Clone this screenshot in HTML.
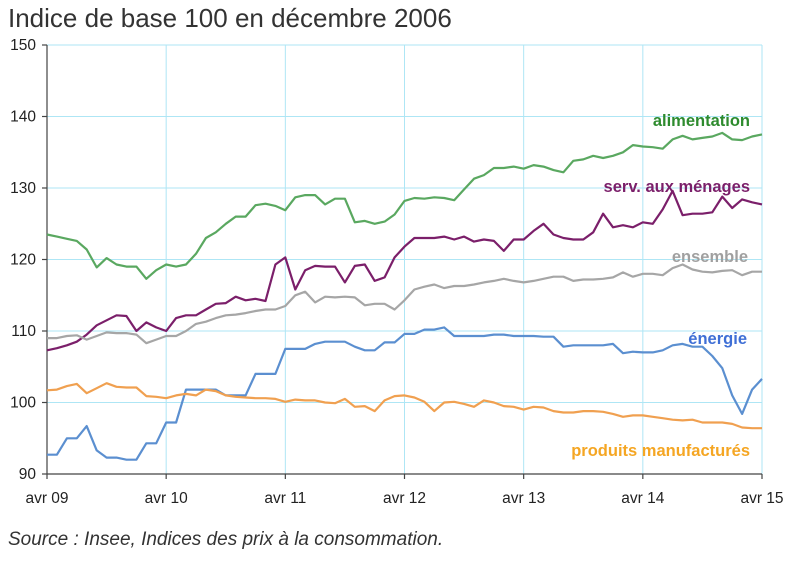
<!DOCTYPE html>
<html><head><meta charset="utf-8"><style>
body{margin:0;background:#fff;}
svg{display:block;font-family:"Liberation Sans",Arial,sans-serif;}
</style></head><body>
<svg id="c" width="797" height="575" xmlns="http://www.w3.org/2000/svg">
<text x="8" y="27" font-size="26" fill="#333">Indice de base 100 en décembre 2006</text>
<g id="grid" stroke="#aee6f5" stroke-width="1"></g>
<g id="ax" stroke="#444" stroke-width="1.2"></g>
<g id="lab" font-size="15.5" fill="#222"></g>
<g id="ser" fill="none" stroke-width="2.2" stroke-linejoin="round"></g>
<g font-size="16.5" font-weight="bold" text-anchor="end">
<text x="750" y="126" fill="#2e8b2e">alimentation</text>
<text x="750" y="192" fill="#7b1f6a">serv. aux ménages</text>
<text x="748" y="262" fill="#a0a0a0">ensemble</text>
<text x="747" y="344" fill="#3f6fd6">énergie</text>
<text x="750" y="456" fill="#f5a623">produits manufacturés</text>
</g>
<text x="8" y="545" font-size="19" font-style="italic" fill="#333">Source : Insee, Indices des prix à la consommation.</text>
</svg>
<script>
var X0=47,X1=762,Y=function(v){return 474-(v-90)*7.15;};
var ns="http://www.w3.org/2000/svg";
function el(p,t,a,txt){var e=document.createElementNS(ns,t);for(var k in a)e.setAttribute(k,a[k]);if(txt!==undefined)e.textContent=txt;document.getElementById(p).appendChild(e);}
for(var v=90;v<=150;v+=10){if(v>90)el("grid","line",{x1:X0,x2:X1,y1:Y(v),y2:Y(v)});
el("ax","line",{x1:X0-5,x2:X0,y1:Y(v),y2:Y(v)});
el("lab","text",{x:36,y:Y(v)+5,"text-anchor":"end"},v);}
var yrs=["avr 09","avr 10","avr 11","avr 12","avr 13","avr 14","avr 15"];
for(var i=0;i<7;i++){var x=X0+i*(X1-X0)/6;if(i>0)el("grid","line",{x1:x,x2:x,y1:Y(150),y2:Y(90)});
el("ax","line",{x1:x,x2:x,y1:474,y2:479});
el("lab","text",{x:x,y:503,"text-anchor":"middle"},yrs[i]);}
el("ax","line",{x1:X0,x2:X0,y1:Y(150),y2:474});
el("ax","line",{x1:X0,x2:X1,y1:474,y2:474});
var S=[
["#5aa860",[123.5,123.2,122.9,122.6,121.4,118.9,120.2,119.3,119.0,119.0,117.3,118.5,119.3,119.0,119.3,120.8,123.0,123.8,125.0,126.0,126.0,127.6,127.8,127.5,126.9,128.7,129.0,129.0,127.7,128.5,128.5,125.2,125.4,125.0,125.3,126.3,128.2,128.6,128.5,128.7,128.6,128.3,129.8,131.3,131.8,132.8,132.8,133.0,132.7,133.2,133.0,132.5,132.2,133.8,134.0,134.5,134.2,134.5,135.0,136.0,135.8,135.7,135.5,136.8,137.3,136.8,137.0,137.2,137.7,136.8,136.7,137.2,137.5]],
["#7b1f6a",[107.3,107.6,108.0,108.5,109.5,110.8,111.5,112.2,112.1,110.0,111.2,110.5,110.0,111.8,112.2,112.2,113.0,113.8,113.9,114.8,114.3,114.5,114.2,119.3,120.3,115.8,118.5,119.1,119.0,119.0,116.8,119.1,119.3,117.0,117.5,120.3,121.8,123.0,123.0,123.0,123.2,122.8,123.2,122.5,122.8,122.6,121.2,122.8,122.8,124.0,125.0,123.5,123.0,122.8,122.8,123.8,126.4,124.5,124.8,124.5,125.2,125.0,127.0,129.6,126.2,126.4,126.4,126.6,128.8,127.2,128.4,128.0,127.7]],
["#a6a6a6",[109.0,109.0,109.3,109.4,108.8,109.3,109.8,109.7,109.7,109.5,108.3,108.8,109.3,109.3,110.0,111.0,111.3,111.8,112.2,112.3,112.5,112.8,113.0,113.0,113.5,115.0,115.5,114.0,114.8,114.7,114.8,114.7,113.6,113.8,113.8,113.0,114.3,115.8,116.2,116.5,116.0,116.3,116.3,116.5,116.8,117.0,117.3,117.0,116.8,117.0,117.3,117.6,117.6,117.0,117.2,117.2,117.3,117.5,118.2,117.6,118.0,118.0,117.8,118.8,119.3,118.6,118.3,118.2,118.4,118.5,117.8,118.3,118.3]],
["#5b8fd0",[92.7,92.7,95.0,95.0,96.7,93.3,92.3,92.3,92.0,92.0,94.3,94.3,97.2,97.2,101.8,101.8,101.8,101.8,101.0,101.0,101.0,104.0,104.0,104.0,107.5,107.5,107.5,108.2,108.5,108.5,108.5,107.8,107.3,107.3,108.4,108.4,109.6,109.6,110.2,110.2,110.5,109.3,109.3,109.3,109.3,109.5,109.5,109.3,109.3,109.3,109.2,109.2,107.8,108.0,108.0,108.0,108.0,108.2,106.9,107.1,107.0,107.0,107.3,108.0,108.2,107.8,107.8,106.5,104.8,101.0,98.4,101.8,103.3]],
["#f0a050",[101.7,101.8,102.3,102.6,101.3,102.0,102.7,102.2,102.1,102.1,100.9,100.8,100.6,101.0,101.2,101.0,101.8,101.6,101.0,100.8,100.7,100.6,100.6,100.5,100.1,100.4,100.3,100.3,100.0,99.9,100.5,99.4,99.5,98.8,100.3,100.9,101.0,100.7,100.1,98.8,100.0,100.1,99.8,99.4,100.3,100.0,99.5,99.4,99.0,99.4,99.3,98.8,98.6,98.6,98.8,98.8,98.7,98.4,98.0,98.2,98.2,98.0,97.8,97.6,97.5,97.6,97.2,97.2,97.2,97.0,96.5,96.4,96.4]]];
S.forEach(function(s){var d=s[1],n=d.length,p=[];for(var i=0;i<n;i++)p.push((X0+i*(X1-X0)/(n-1)).toFixed(1)+","+Y(d[i]).toFixed(1));
el("ser","polyline",{points:p.join(" "),stroke:s[0]});});
</script>
</body></html>
